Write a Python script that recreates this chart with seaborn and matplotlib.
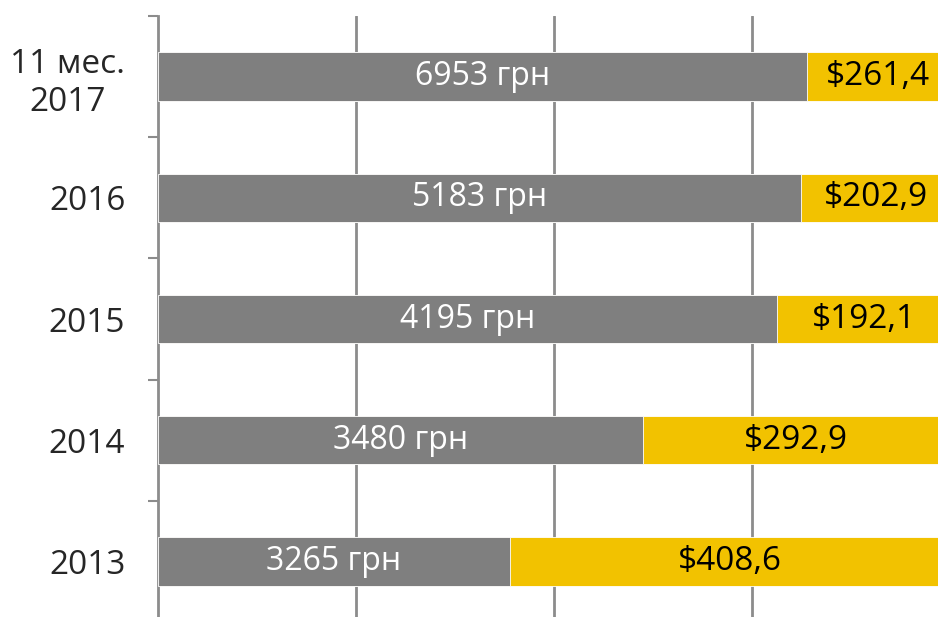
import matplotlib
matplotlib.use("Agg")
import matplotlib.pyplot as plt
import numpy as np
import pandas as pd
import seaborn as sns

# data
categories = ["11 мес.\n2017", "2016", "2015", "2014", "2013"]
grey_share = [81.9, 81.2, 78.2, 61.2, 44.4]
yellow_share = [18.1, 18.8, 21.8, 38.8, 55.6]
grey_labels = ["6953 грн", "5183 грн", "4195 грн", "3480 грн", "3265 грн"]
yellow_labels = ["$261,4", "$202,9", "$192,1", "$292,9", "$408,6"]

GREY = "#7f7f7f"
YELLOW = "#f2c200"

sns.set_style("white")
plt.rcParams["font.family"] = ["Open Sans", "DejaVu Sans"]

df = pd.DataFrame({"cat": categories, "grey": grey_share, "yellow": yellow_share})
df["total"] = df["grey"] + df["yellow"]

W, H = 938, 617
fig = plt.figure(figsize=(W / 100, H / 100), dpi=100)
# axis starts at x=158px, gridlines every 198px, so 100% sits just past the right edge
ax = fig.add_axes([158 / W, -5 / H, 792 / W, 606 / H])

sns.barplot(data=df, x="total", y="cat", orient="h", color=YELLOW, width=0.4,
            saturation=1, edgecolor="white", linewidth=0.6, ax=ax, zorder=2)
sns.barplot(data=df, x="grey", y="cat", orient="h", color=GREY, width=0.4,
            saturation=1, edgecolor="white", linewidth=0.6, ax=ax, zorder=3)

for i in range(len(categories)):
    g = df["grey"][i]
    yv = df["yellow"][i]
    ax.text(g / 2, i, grey_labels[i], color="white", fontsize=23,
            ha="center", va="center", zorder=4)
    ax.text(g + yv / 2, i, yellow_labels[i], color="black", fontsize=24,
            ha="center", va="center", zorder=4)

ax.set_xlim(0, 100)
ax.set_ylim(4.5, -0.5)
ax.set_xticks([25, 50, 75])
ax.xaxis.grid(True, color="#8c8c8c", linewidth=2)
ax.tick_params(axis="x", bottom=False, labelbottom=False)
ax.set_axisbelow(True)

ax.set_yticks(np.arange(-0.5, 5, 1), minor=True)
ax.tick_params(axis="y", which="minor", left=True, length=7.5, width=1.5, color="#8c8c8c")
ax.tick_params(axis="y", which="major", left=False, pad=20, labelsize=24)
for lab in ax.get_yticklabels():
    lab.set_multialignment("center")

ax.set_xlabel("")
ax.set_ylabel("")
for side in ["top", "right", "bottom"]:
    ax.spines[side].set_visible(False)
ax.spines["left"].set_color("#8c8c8c")
ax.spines["left"].set_linewidth(2)

fig.savefig("out.png", dpi=100)
